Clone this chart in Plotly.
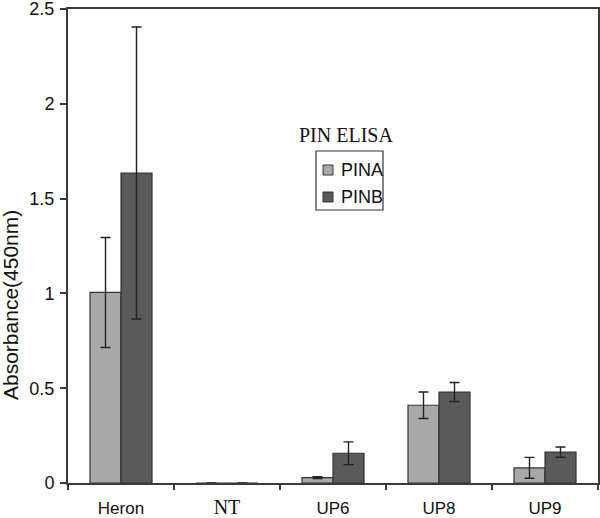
import plotly.graph_objects as go

categories = ["Heron", "NT", "UP6", "UP8", "UP9"]
tick_labels = ["Heron", '<span style="font-family:Liberation Serif, Times New Roman, serif;font-size:20px">NT</span>', "UP6", "UP8", "UP9"]
series_names = ["PINA", "PINB"]
series_colors = ["#a9a9a9", "#5a5a5a"]
pina_values = [1.005, 0.0, 0.028, 0.41, 0.08]
pina_errors = [0.29, 0.0, 0.005, 0.07, 0.055]
pinb_values = [1.635, 0.0, 0.157, 0.48, 0.163]
pinb_errors = [0.77, 0.0, 0.06, 0.05, 0.027]

TOP, BOTTOM, LEFT, RIGHT = 9, 35, 68, 2
PLOT_W = 600 - LEFT - RIGHT
PLOT_H = 518 - TOP - BOTTOM

fig = go.Figure()
for name, color, vals, errs in zip(series_names, series_colors,
                                   [pina_values, pinb_values], [pina_errors, pinb_errors]):
    fig.add_trace(go.Bar(
        x=categories, y=vals, name=name,
        marker=dict(color=color, line=dict(color="#333333", width=1.2)),
        error_y=dict(type="data", array=errs, visible=True, color="#222222", thickness=1.4, width=5),
    ))

def px_x(p):
    return (p - LEFT) / PLOT_W

def px_y(p):
    return (518 - BOTTOM - p) / PLOT_H

shapes = [dict(type="rect", xref="paper", yref="paper",
               x0=px_x(316), x1=px_x(383), y0=px_y(210), y1=px_y(151),
               line=dict(color="#333333", width=1.2), fillcolor="white", layer="above")]
annotations = [
    dict(text="PIN ELISA", x=px_x(346), y=px_y(135), xref="paper", yref="paper",
         xanchor="center", yanchor="middle", showarrow=False,
         font=dict(family="Liberation Serif, Times New Roman, serif", size=20, color="#111111")),
    dict(text="Absorbance(450nm)", x=px_x(11), y=px_y(305), xref="paper", yref="paper",
         xanchor="center", yanchor="middle", showarrow=False, textangle=-90,
         font=dict(family="Liberation Sans, Arial, sans-serif", size=21, color="#111111")),
]
for name, color, cy in zip(series_names, series_colors, [170, 197]):
    shapes.append(dict(type="rect", xref="paper", yref="paper",
                       x0=px_x(323), x1=px_x(333), y0=px_y(cy + 5), y1=px_y(cy - 5),
                       line=dict(color="#333333", width=1), fillcolor=color, layer="above"))
    annotations.append(dict(text=name, x=px_x(339), y=px_y(cy), xref="paper", yref="paper",
                            xanchor="left", yanchor="middle", showarrow=False,
                            font=dict(family="Liberation Sans, Arial, sans-serif", size=18, color="#111111")))

fig.update_layout(
    width=600, height=518,
    margin=dict(l=LEFT, r=RIGHT, t=TOP, b=BOTTOM),
    paper_bgcolor="white", plot_bgcolor="white",
    barmode="group", bargap=0.415, bargroupgap=0,
    font=dict(family="Liberation Sans, Arial, sans-serif", size=17, color="#111111"),
    showlegend=False,
    shapes=shapes,
    annotations=annotations,
)
fig.update_xaxes(
    type="category", tickvals=categories, ticktext=tick_labels,
    tickson="boundaries", ticks="outside", ticklen=5, tickcolor="#3a3a3a", tickwidth=1.5,
    showline=True, linecolor="#3a3a3a", linewidth=2, mirror=True,
    showgrid=False, automargin=False, tickfont=dict(size=17), ticklabelstandoff=9,
)
fig.update_yaxes(
    range=[0, 2.5], tickvals=[0, 0.5, 1, 1.5, 2, 2.5], ticktext=["0", "0.5", "1", "1.5", "2", "2.5"],
    ticks="outside", ticklen=6, tickcolor="#3a3a3a", tickwidth=1.5,
    showline=True, linecolor="#3a3a3a", linewidth=2, mirror=True,
    showgrid=False, zeroline=False, automargin=False, tickfont=dict(size=18),
    ticklabeloverflow="allow", ticklabelstandoff=2,
)

fig.write_html("out.html", config={"displayModeBar": False},
               post_script="document.body.style.margin='0';document.body.style.padding='0';")
